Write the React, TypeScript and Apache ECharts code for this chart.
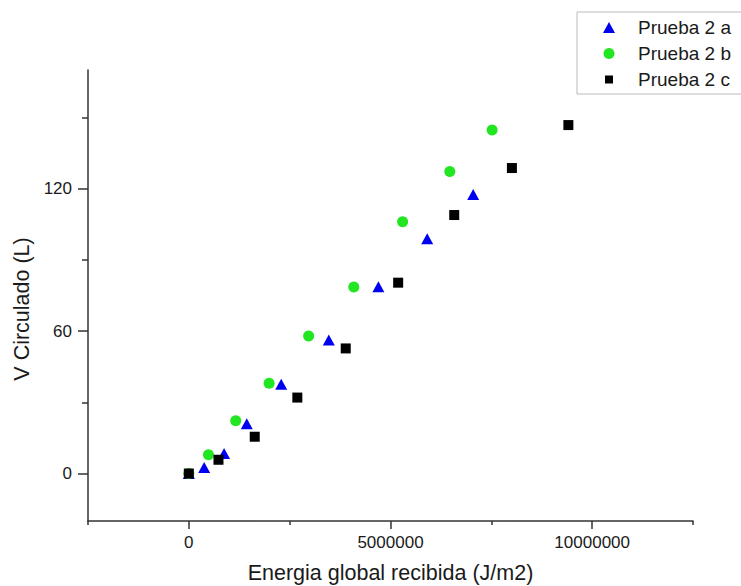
import React, { useEffect, useRef } from "react";
import * as echarts from "echarts";

// Energia global recibida (J/m2), V Circulado (L)
const pruebaA: [number, number][] = [
  [0, 0], [380000, 2.5], [874000, 8.4], [1436000, 21], [2290000, 37.6],
  [3470000, 56.3], [4700000, 78.7], [5910000, 98.9], [7050000, 117.6],
];
const pruebaB: [number, number][] = [
  [0, 0], [487000, 7.9], [1163000, 22.2], [1990000, 38], [2970000, 57.9],
  [4090000, 78.6], [5300000, 106.1], [6470000, 127.2], [7520000, 144.7],
];
const pruebaC: [number, number][] = [
  [0, 0], [735000, 5.8], [1634000, 15.5], [2690000, 32], [3890000, 52.7],
  [5190000, 80.4], [6580000, 108.9], [8010000, 128.7], [9410000, 146.8],
];
const seriesNames = ["Prueba 2 a", "Prueba 2 b", "Prueba 2 c"];
const xMajorTicks = [0, 5000000, 10000000];
const xMinorTicks = [-2500000, 2500000, 7500000, 12500000];
const yMajorTicks = [0, 60, 120];
const yMinorTicks = [30, 90, 150];
const xRange = [-2500000, 12500000];
const yRange = [-20, 170];

const FONT = "'Liberation Sans', Arial, sans-serif";
const AXIS_COLOR = "#333";
const TEXT_COLOR = "#1a1a1a";
const BLUE = "#0000f0";
const GREEN = "#22e622";
const BLACK = "#000";

// legend icons: invisible move-to points keep a 12x12 bounding box
const ICON_TRIANGLE = "path://M0,0M12,12M6,0.5L12,11.5L0,11.5Z";
const ICON_CIRCLE = "path://M0,0M12,12M6,0.5A5.5,5.5,0,1,1,5.99,0.5Z";
const ICON_SQUARE = "path://M0,0M12,12M2,2H10V10H2Z";

export default function App() {
  const ref = useRef<HTMLDivElement>(null);
  useEffect(() => {
    if (!ref.current) return;
    const chart = echarts.init(ref.current, null, { renderer: "svg" });
    const axisLine = { show: true, onZero: false, lineStyle: { color: AXIS_COLOR, width: 1.5 } };
    const plain = (v: number) => String(v);
    chart.setOption({
      animation: false,
      backgroundColor: "#fff",
      textStyle: { fontFamily: FONT },
      grid: { left: 88, top: 70, right: 48, bottom: 65, containLabel: false, outerBoundsMode: "none" },
      legend: {
        orient: "vertical",
        left: 577,
        top: 12,
        data: [
          { name: seriesNames[0], icon: ICON_TRIANGLE },
          { name: seriesNames[1], icon: ICON_CIRCLE },
          { name: seriesNames[2], icon: ICON_SQUARE },
        ],
        itemWidth: 48,
        itemHeight: 12,
        itemGap: 7,
        symbolKeepAspect: true,
        padding: [6, 40, 5, 26],
        borderColor: "#bbb",
        borderWidth: 1,
        textStyle: { fontSize: 19, color: TEXT_COLOR, fontFamily: FONT },
      },
      xAxis: [
        {
          type: "value",
          min: xRange[0],
          max: xRange[1],
          position: "bottom",
          name: "Energia global recibida (J/m2)",
          nameLocation: "middle",
          nameGap: 41,
          nameTextStyle: { fontSize: 21.5, color: TEXT_COLOR, fontFamily: FONT },
          axisLine,
          axisTick: { show: true, customValues: xMajorTicks, length: 8, lineStyle: { color: AXIS_COLOR, width: 1.5 } },
          axisLabel: { customValues: xMajorTicks, formatter: plain, fontSize: 17, color: TEXT_COLOR, margin: 13, fontFamily: FONT },
          splitLine: { show: false },
        },
        {
          type: "value",
          min: xRange[0],
          max: xRange[1],
          position: "bottom",
          axisLine: { show: false, onZero: false },
          axisTick: { show: true, customValues: xMinorTicks, length: 4, lineStyle: { color: AXIS_COLOR, width: 1.5 } },
          axisLabel: { show: false },
          splitLine: { show: false },
        },
      ],
      yAxis: [
        {
          type: "value",
          min: yRange[0],
          max: yRange[1],
          position: "left",
          name: "V Circulado (L)",
          nameLocation: "middle",
          nameGap: 55,
          nameTextStyle: { fontSize: 21.5, color: TEXT_COLOR, fontFamily: FONT, padding: [0, 27, 0, 0] },
          axisLine,
          axisTick: { show: true, customValues: yMajorTicks, length: 10, lineStyle: { color: AXIS_COLOR, width: 1.5 } },
          axisLabel: { customValues: yMajorTicks, formatter: plain, fontSize: 17, color: TEXT_COLOR, margin: 16, fontFamily: FONT },
          splitLine: { show: false },
        },
        {
          type: "value",
          min: yRange[0],
          max: yRange[1],
          position: "left",
          axisLine: { show: false, onZero: false },
          axisTick: { show: true, customValues: yMinorTicks, length: 6, lineStyle: { color: AXIS_COLOR, width: 1.5 } },
          axisLabel: { show: false },
          splitLine: { show: false },
        },
      ],
      series: [
        {
          name: seriesNames[0],
          type: "scatter",
          data: pruebaA,
          symbol: "triangle",
          symbolSize: [12, 11],
          itemStyle: { color: BLUE, opacity: 1 },
        },
        {
          name: seriesNames[1],
          type: "scatter",
          data: pruebaB,
          symbol: "circle",
          symbolSize: 11,
          itemStyle: { color: GREEN, opacity: 1 },
        },
        {
          name: seriesNames[2],
          type: "scatter",
          data: pruebaC,
          symbol: "rect",
          symbolSize: 10,
          itemStyle: { color: BLACK, opacity: 1 },
        },
      ],
    });
    return () => chart.dispose();
  }, []);
  return (
    <div
      ref={ref}
      style={{ position: "fixed", left: 0, top: 0, width: 741, height: 586, background: "#fff" }}
    />
  );
}
